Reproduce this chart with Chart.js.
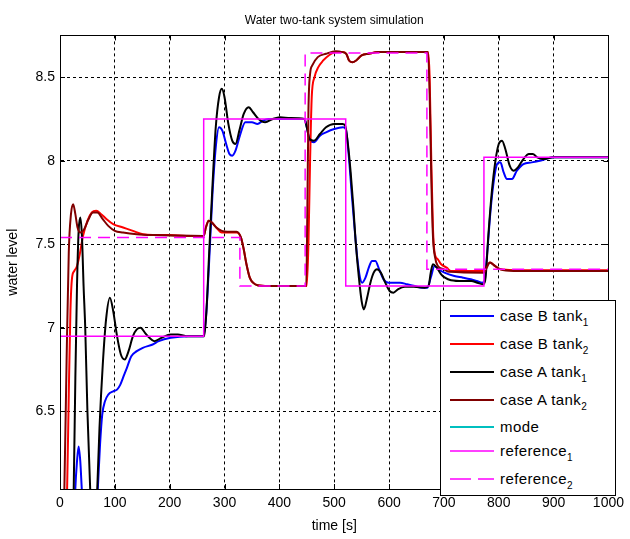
<!DOCTYPE html>
<html>
<head>
<meta charset="utf-8">
<script src="https://cdn.jsdelivr.net/npm/chart.js@4"></script>
<style>
  html, body { margin: 0; padding: 0; background: #fff; }
  #wrap { position: relative; width: 630px; height: 539px; }
  #legend {
    position: absolute; left: 440px; top: 300px; width: 174px; height: 194px;
    border: 1px solid #000; background: #fff; color: #000;
    font-family: 'Liberation Sans', Arial, Helvetica, sans-serif; font-size: 15px;
  }
  .row { position: absolute; left: 0; width: 174px; height: 20px; }
  .row svg { position: absolute; left: 9px; top: 8px; }
  .row span { position: absolute; left: 59px; top: 0; line-height: 20px; white-space: nowrap; letter-spacing: 0.4px; }
  .row sub { font-size: 10px; vertical-align: -5px; line-height: 0; letter-spacing: 0; }
</style>
</head>
<body>
<div id="wrap">
  <canvas id="chart" width="630" height="539"></canvas>
  <div id="legend"></div>
</div>
<script>
// time [s], water level
const caseBTank1 = [[0,4.0],[20,5.2],[28,6.04],[31,6.2],[34,6.29],[37,6.2],[40,6.02],[45,5.8],[55,5.65],[64,5.75],[69,6.04],[73,6.3],[77,6.48],[82,6.56],[88,6.6],[97,6.62],[104,6.63],[110,6.66],[116,6.71],[122,6.76],[130,6.83],[140,6.86],[151,6.88],[169,6.9],[180,6.92],[202,6.94],[234,6.95],[262,6.95],[267,7.1],[272,7.4],[278,7.8],[284,8.08],[290,8.2],[296,8.18],[303,8.1],[309,8.04],[314,8.03],[320,8.06],[328,8.15],[338,8.23],[350,8.23],[360,8.22],[370,8.24],[380,8.25],[446,8.25],[450,8.2],[456,8.12],[463,8.11],[474,8.15],[485,8.17],[500,8.19],[516,8.2],[521,8.19],[526,8.05],[532,7.8],[537,7.6],[542,7.42],[547,7.3],[551,7.27],[557,7.3],[563,7.36],[569,7.4],[575,7.4],[582,7.35],[590,7.29],[599,7.27],[610,7.27],[620,7.27],[633,7.26],[647,7.25],[660,7.24],[670,7.24],[676,7.3],[683,7.37],[690,7.35],[701,7.33],[719,7.31],[735,7.3],[749,7.29],[760,7.28],[770,7.27],[774,7.28],[779,7.45],[785,7.7],[791,7.88],[797,7.98],[803,7.99],[809,7.93],[815,7.89],[824,7.89],[833,7.94],[845,7.98],[860,7.99],[875,8.0],[900,8.02],[1000,8.02]];
const caseBTank2 = [[0,5.0],[8,5.6],[13,6.04],[16,6.6],[19,7.1],[22,7.3],[26,7.34],[31,7.37],[36,7.44],[42,7.55],[50,7.64],[58,7.69],[66,7.7],[75,7.68],[85,7.65],[97,7.62],[115,7.6],[133,7.58],[151,7.56],[169,7.555],[200,7.555],[230,7.55],[262,7.55],[266,7.6],[271,7.64],[277,7.63],[285,7.6],[295,7.57],[305,7.57],[322,7.57],[330,7.54],[335,7.47],[340,7.38],[346,7.3],[352,7.27],[360,7.255],[380,7.25],[450,7.25],[453,7.5],[456,8.0],[459,8.38],[464,8.5],[471,8.56],[480,8.6],[490,8.63],[503,8.65],[515,8.65],[522,8.64],[527,8.6],[533,8.59],[540,8.6],[550,8.63],[563,8.64],[580,8.65],[671,8.65],[674,8.5],[677,8.0],[680,7.6],[683,7.45],[689,7.41],[695,7.38],[705,7.36],[713,7.34],[740,7.34],[773,7.34],[778,7.37],[784,7.39],[793,7.37],[803,7.35],[827,7.345],[1000,7.345]];
const caseATank1 = [[0,4.0],[18,5.2],[25,6.04],[28,6.7],[31,7.25],[34,7.58],[37,7.66],[40,7.55],[43,7.25],[46,7.0],[50,6.5],[55,6.04],[60,5.75],[64,5.75],[68,6.04],[72,6.4],[78,6.78],[84,7.05],[91,7.18],[97,7.1],[104,6.95],[111,6.84],[118,6.81],[125,6.86],[133,6.95],[140,6.99],[147,7.0],[155,6.97],[163,6.94],[172,6.92],[185,6.94],[202,6.96],[215,6.96],[230,6.95],[263,6.95],[267,7.1],[272,7.45],[278,7.85],[284,8.2],[290,8.38],[295,8.43],[300,8.38],[307,8.22],[314,8.12],[320,8.1],[327,8.18],[335,8.28],[344,8.32],[352,8.29],[362,8.25],[374,8.23],[388,8.25],[401,8.26],[420,8.255],[446,8.25],[450,8.2],[455,8.13],[463,8.12],[474,8.16],[485,8.2],[500,8.22],[515,8.22],[520,8.21],[525,8.1],[530,7.93],[535,7.72],[539,7.52],[545,7.3],[550,7.16],[554,7.11],[560,7.18],[566,7.27],[572,7.33],[578,7.35],[585,7.33],[593,7.27],[601,7.22],[608,7.21],[616,7.23],[629,7.245],[645,7.245],[665,7.24],[672,7.25],[676,7.33],[680,7.38],[687,7.36],[695,7.32],[702,7.3],[713,7.285],[735,7.28],[750,7.28],[761,7.27],[772,7.26],[776,7.3],[781,7.55],[787,7.8],[794,8.0],[800,8.1],[806,8.12],[812,8.07],[820,7.97],[827,7.94],[835,7.96],[845,8.01],[855,8.04],[862,8.04],[870,8.02],[880,8.01],[900,8.02],[1000,8.02]];
const caseATank2 = [[0,5.0],[6,5.8],[8,6.04],[12,6.8],[16,7.45],[20,7.68],[24,7.74],[28,7.68],[32,7.6],[37,7.57],[44,7.59],[52,7.65],[60,7.69],[68,7.69],[78,7.65],[88,7.61],[100,7.58],[115,7.57],[140,7.56],[170,7.555],[262,7.55],[266,7.6],[271,7.64],[277,7.63],[285,7.6],[295,7.58],[305,7.575],[322,7.575],[330,7.54],[335,7.47],[340,7.38],[346,7.3],[352,7.27],[360,7.255],[380,7.25],[449,7.25],[451,7.7],[453,8.3],[456,8.52],[460,8.57],[470,8.62],[485,8.64],[503,8.655],[515,8.65],[522,8.64],[527,8.6],[533,8.59],[540,8.6],[550,8.63],[563,8.64],[580,8.65],[671,8.65],[674,8.4],[677,7.9],[680,7.55],[684,7.42],[689,7.37],[700,7.35],[710,7.335],[773,7.33],[778,7.36],[784,7.39],[793,7.37],[803,7.35],[827,7.34],[1000,7.34]];
const modeSignal = []; // off scale, only in legend
const reference1 = [[0,6.95],[262,8.25],[521,7.25],[773,8.02],[1000,8.02]];
const reference2 = [[0,7.54],[328,7.25],[447,8.645],[669,7.35],[1000,7.35]];

const seriesNames = ['case B tank', 'case B tank', 'case A tank', 'case A tank', 'mode', 'reference', 'reference'];
const seriesSubs = ['1', '2', '1', '2', '', '1', '2'];
const xTicks = [0, 100, 200, 300, 400, 500, 600, 700, 800, 900, 1000];
const yTicks = [6.5, 7, 7.5, 8, 8.5];

const series = [caseBTank1, caseBTank2, caseATank1, caseATank2, modeSignal, reference1, reference2];
const colors = ['#0000ff', '#ff0000', '#000000', '#800000', '#00bfbf', '#ff00ff', '#ff00ff'];
const family = "'Liberation Sans', Arial, Helvetica, sans-serif";

const datasets = series.map((pts, i) => ({
    label: seriesNames[i] + seriesSubs[i],
    data: pts.map(([x, y]) => ({ x, y })),
    borderColor: colors[i],
    borderWidth: i >= 5 ? 1.5 : 2,
    borderDash: i === 6 ? [12, 7] : [],
    stepped: i >= 5 ? 'before' : false,
    cubicInterpolationMode: i < 5 ? 'monotone' : 'default',
    pointRadius: 0,
    fill: false,
    order: series.length - 1 - i
}));

// axes box with inward tick marks, like matlab
const boxPlugin = {
    id: 'box',
    afterDraw(chart) {
        const { ctx, chartArea: a, scales } = chart;
        ctx.save();
        ctx.strokeStyle = '#000';
        ctx.lineWidth = 1;
        ctx.setLineDash([]);
        ctx.strokeRect(Math.round(a.left) + 0.5, Math.round(a.top) + 0.5, Math.round(a.right - a.left), Math.round(a.bottom - a.top));
        ctx.beginPath();
        xTicks.forEach(v => {
            const px = Math.round(scales.x.getPixelForValue(v)) + 0.5;
            ctx.moveTo(px, a.bottom); ctx.lineTo(px, a.bottom - 5);
            ctx.moveTo(px, a.top); ctx.lineTo(px, a.top + 5);
        });
        yTicks.forEach(v => {
            const py = Math.round(scales.y.getPixelForValue(v)) + 0.5;
            ctx.moveTo(a.left, py); ctx.lineTo(a.left + 5, py);
            ctx.moveTo(a.right, py); ctx.lineTo(a.right - 5, py);
        });
        ctx.stroke();
        ctx.restore();
    }
};

const axisFont = { family, size: 14 };

new Chart(document.getElementById('chart').getContext('2d'), {
    type: 'line',
    data: { datasets },
    options: {
        responsive: false,
        animation: false,
        layout: { padding: { right: 13 } },
        plugins: {
            legend: { display: false },
            tooltip: { enabled: false },
            title: {
                display: true,
                text: 'Water two-tank system simulation',
                fullSize: false,
                color: '#000',
                font: { family, size: 12, weight: 'normal' },
                padding: { top: 13, bottom: 8 }
            }
        },
        scales: {
            x: {
                type: 'linear',
                min: 0,
                max: 1000,
                afterBuildTicks: s => { s.ticks = xTicks.map(v => ({ value: v })); },
                afterFit: s => { s.height = 50; },
                grid: { color: '#000', lineWidth: 1, drawTicks: false },
                border: { color: '#000', width: 1, dash: [3, 3] },
                ticks: { color: '#000', font: axisFont, padding: 6, maxRotation: 0, autoSkip: false, callback: v => String(v) },
                title: { display: true, text: 'time [s]', color: '#000', font: axisFont, padding: { top: 0, bottom: 4 } }
            },
            y: {
                type: 'linear',
                min: 6.035,
                max: 8.75,
                afterBuildTicks: s => { s.ticks = yTicks.map(v => ({ value: v })); },
                afterFit: s => { s.width = 60; },
                grid: { color: '#000', lineWidth: 1, drawTicks: false },
                border: { color: '#000', width: 1, dash: [3, 3] },
                ticks: { color: '#000', font: axisFont, padding: 5, callback: v => String(v) },
                title: { display: true, text: 'water level', color: '#000', font: axisFont, padding: { top: 5, bottom: 0 } }
            }
        }
    },
    plugins: [boxPlugin]
});

// legend box (bottom right, inside the axes)
const rowTops = [5, 33, 61, 89, 116, 140, 168];
const legend = document.getElementById('legend');
legend.innerHTML = series.map((s, i) => `
    <div class="row" style="top:${rowTops[i]}px">
        <svg width="44" height="4"><line x1="0" y1="2" x2="44" y2="2" stroke="${colors[i]}"
            stroke-width="${i >= 5 ? 1.5 : 2}" ${i === 6 ? 'stroke-dasharray="21 7"' : ''}/></svg>
        <span>${seriesNames[i]}${seriesSubs[i] ? `<sub>${seriesSubs[i]}</sub>` : ''}</span>
    </div>
`).join('');
</script>
</body>
</html>
